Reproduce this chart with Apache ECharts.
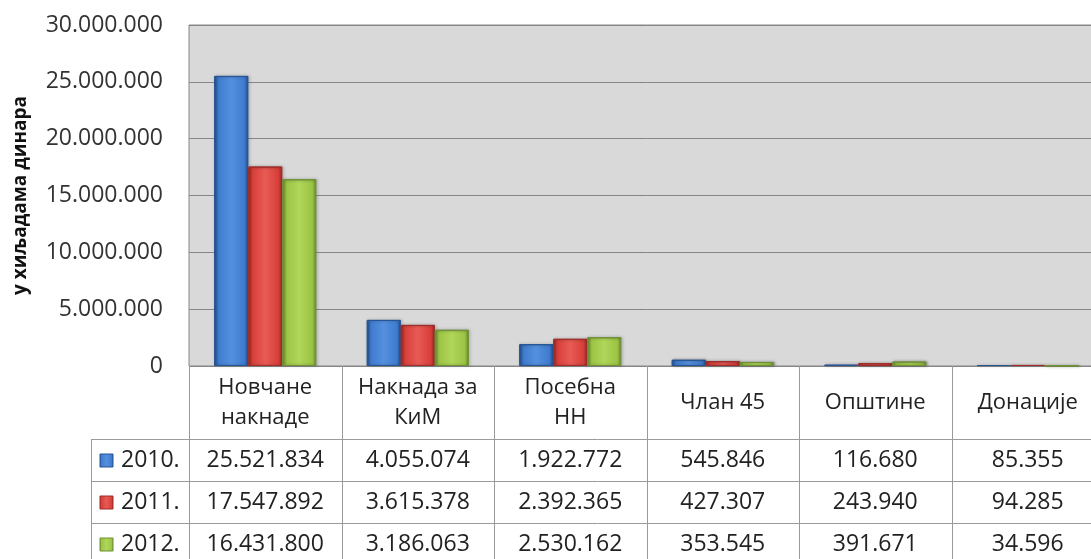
<!DOCTYPE html>
<html>
<head>
<meta charset="utf-8">
<script src="https://cdn.jsdelivr.net/npm/echarts@6/dist/echarts.min.js"></script>
<style>
  html, body { margin: 0; padding: 0; background: #fff; overflow: hidden; }
  #chart { width: 1104px; height: 559px; }
</style>
</head>
<body>
<div id="chart"></div>
<script>
// categories and values (у хиљадама динара)
const categories = ['Новчане\nнакнаде', 'Накнада за\nКиМ', 'Посебна\nНН', 'Члан 45', 'Општине', 'Донације'];
const years = ['2010.', '2011.', '2012.'];
const values2010 = [25521834, 4055074, 1922772, 545846, 116680, 85355];
const values2011 = [17547892, 3615378, 2392365, 427307, 243940, 94285];
const values2012 = [16431800, 3186063, 2530162, 353545, 391671, 34596];
const yTicks = [0, 5000000, 10000000, 15000000, 20000000, 25000000, 30000000];

const FONT = '"Open Sans", "Liberation Sans", sans-serif';
const LINE = '#9a9a9a';

const palette = [
  { edge: '#275594', mid: '#3f7ccf', light: '#5590df' },
  { edge: '#a02d29', mid: '#d83f3a', light: '#e85b55' },
  { edge: '#6f9136', mid: '#9cc443', light: '#b0d65a' }
];

function barFill(p) {
  return new echarts.graphic.LinearGradient(0, 0, 1, 0, [
    { offset: 0, color: p.edge },
    { offset: 0.12, color: p.mid },
    { offset: 0.5, color: p.light },
    { offset: 0.88, color: p.mid },
    { offset: 1, color: p.edge }
  ]);
}

function fmt(v) {
  return String(v).replace(/\B(?=(\d{3})+(?!\d))/g, '.');
}

const chart = echarts.init(document.getElementById('chart'));
const allSeries = [values2010, values2011, values2012];

chart.setOption({
  animation: false,
  grid: {
    left: 189, top: 25, width: 915, bottom: 193,
    show: true, backgroundColor: '#d9d9d9', borderColor: '#868686', borderWidth: 1
  },
  xAxis: {
    type: 'category',
    data: categories,
    axisLine: { show: false },
    axisTick: { show: false },
    axisLabel: {
      interval: 0,
      margin: 37,
      verticalAlign: 'middle',
      fontFamily: FONT,
      fontSize: 22,
      lineHeight: 30,
      color: '#222'
    }
  },
  yAxis: {
    type: 'value',
    min: yTicks[0],
    max: yTicks[yTicks.length - 1],
    interval: 5000000,
    name: 'у хиљадама динара',
    nameLocation: 'middle',
    nameRotate: 90,
    nameGap: 159,
    nameTextStyle: { fontFamily: FONT, fontSize: 19, fontWeight: 'bold', color: '#111' },
    axisLine: { show: false },
    axisTick: { show: false },
    axisLabel: {
      margin: 26,
      fontFamily: FONT,
      fontSize: 23,
      color: '#333',
      formatter: v => fmt(v)
    },
    splitLine: { lineStyle: { color: '#868686', width: 1 } }
  },
  series: allSeries.map((data, i) => ({
    name: years[i],
    type: 'bar',
    data: data,
    barWidth: 34,
    barGap: '0%',
    itemStyle: {
      color: barFill(palette[i]),
      borderColor: palette[i].edge,
      borderWidth: 1,
      shadowColor: 'rgba(0,0,0,0.35)',
      shadowBlur: 3,
      shadowOffsetX: 1,
      shadowOffsetY: 0
    }
  }))
});

// data table below the plot, positioned from the category axis
function buildTable() {
  const c0 = chart.convertToPixel({ xAxisIndex: 0 }, 0);
  const c1 = chart.convertToPixel({ xAxisIndex: 0 }, 1);
  const band = c1 - c0;
  const left = c0 - band / 2;
  const plotBottom = chart.convertToPixel({ yAxisIndex: 0 }, 0);
  const tableLeft = 91;
  const rowTops = [439, 481, 523, 565];
  const bottom = 600;
  const right = left + band * categories.length;
  const g = [];

  // vertical lines
  for (let i = 0; i <= categories.length; i++) {
    const x = Math.round(left + band * i) + 0.5;
    g.push({ type: 'line', shape: { x1: x, y1: plotBottom, x2: x, y2: bottom }, style: { stroke: LINE, lineWidth: 1 } });
  }
  g.push({ type: 'line', shape: { x1: tableLeft + 0.5, y1: rowTops[0], x2: tableLeft + 0.5, y2: bottom }, style: { stroke: LINE, lineWidth: 1 } });
  // horizontal lines
  rowTops.forEach(y => {
    g.push({ type: 'line', shape: { x1: tableLeft, y1: y + 0.5, x2: right, y2: y + 0.5 }, style: { stroke: LINE, lineWidth: 1 } });
  });

  allSeries.forEach((data, r) => {
    const cy = (rowTops[r] + rowTops[r + 1]) / 2;
    g.push({
      type: 'rect',
      shape: { x: 100, y: cy - 6, width: 13, height: 13 },
      style: { fill: barFill(palette[r]), stroke: palette[r].edge, lineWidth: 1 }
    });
    g.push({
      type: 'text',
      x: 121, y: cy,
      style: { text: years[r], font: '23px ' + FONT, fill: '#222', verticalAlign: 'middle', align: 'left' }
    });
    data.forEach((v, i) => {
      g.push({
        type: 'text',
        x: left + band * (i + 0.5), y: cy,
        style: { text: fmt(v), font: '23px ' + FONT, fill: '#222', align: 'center', verticalAlign: 'middle' }
      });
    });
  });

  chart.setOption({ graphic: g });
}

buildTable();
</script>
</body>
</html>
